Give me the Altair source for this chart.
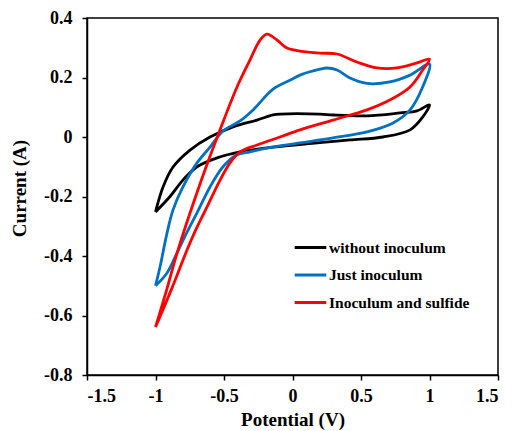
import altair as alt
import pandas as pd

series_names = ["without inoculum", "Just inoculum", "Inoculum and sulfide"]
series_colors = ["#000000", "#0070C0", "#FF0000"]

black_x = [-1.0, -0.945, -0.872, -0.748, -0.602, -0.434, -0.259, -0.142, -0.091, 0.20, 0.296, 0.544, 0.785, 0.909, 1.0,
           0.95, 0.858, 0.66, 0.42, 0.18, -0.142, -0.383, -0.55, -0.697, -0.80, -0.894, -1.0]
black_y = [-0.252, -0.168, -0.101, -0.044, 0.0, 0.034, 0.057, 0.074, 0.077, 0.077, 0.074, 0.071, 0.081, 0.088, 0.108,
           0.067, 0.024, 0.0, -0.010, -0.020, -0.034, -0.050, -0.070, -0.100, -0.145, -0.200, -0.252]

blue_x = [-1.0, -0.967, -0.916, -0.872, -0.80, -0.697, -0.602, -0.507, -0.383, -0.288, -0.142, 0.0, 0.055, 0.20, 0.252,
          0.325, 0.42, 0.544, 0.71, 0.858, 1.0,
          0.95, 0.858, 0.734, 0.544, 0.296, 0.055, -0.186, -0.31, -0.405, -0.507, -0.602, -0.697, -0.77, -0.843, -0.916, -1.0]
blue_y = [-0.50, -0.437, -0.323, -0.245, -0.168, -0.087, -0.034, 0.020, 0.054, 0.091, 0.161, 0.195, 0.208, 0.228, 0.232,
          0.225, 0.198, 0.180, 0.185, 0.208, 0.245,
          0.168, 0.091, 0.047, 0.017, -0.003, -0.020, -0.037, -0.050, -0.060, -0.100, -0.168, -0.255, -0.320, -0.390, -0.457, -0.50]

red_x = [-1.0, -0.916, -0.836, -0.639, -0.529, -0.405, -0.31, -0.237, -0.186, -0.113, -0.04, 0.055, 0.20, 0.325, 0.47,
         0.617, 0.763, 0.909, 1.0,
         0.95, 0.858, 0.71, 0.544, 0.296, 0.055, -0.091, -0.259, -0.383, -0.456, -0.529, -0.624, -0.697, -0.77, -0.88, -1.0]
red_y = [-0.639, -0.51, -0.38, -0.111, 0.024, 0.168, 0.259, 0.326, 0.346, 0.326, 0.299, 0.289, 0.282, 0.279, 0.252,
         0.232, 0.232, 0.249, 0.262,
         0.225, 0.168, 0.124, 0.091, 0.057, 0.024, 0.0, -0.027, -0.050, -0.087, -0.145, -0.235, -0.303, -0.380, -0.508, -0.639]

x_ticks = [-1.5, -1.0, -0.5, 0.0, 0.5, 1.0, 1.5]
y_ticks = [-0.8, -0.6, -0.4, -0.2, 0.0, 0.2, 0.4]

rows = []
for name, xs, ys in zip(series_names, [black_x, blue_x, red_x], [black_y, blue_y, red_y]):
    for i, (xv, yv) in enumerate(zip(xs, ys)):
        rows.append({"series": name, "potential": xv, "current": yv, "order": i})
df = pd.DataFrame(rows)

font = "Liberation Serif"

chart = alt.Chart(df).mark_line(strokeWidth=2.8, interpolate="catmull-rom").encode(
    x=alt.X("potential:Q",
            scale=alt.Scale(domain=[-1.5, 1.5], nice=False, zero=False),
            axis=alt.Axis(values=x_ticks, labelExpr="toString(datum.value)", title="Potential (V)",
                          labelPadding=7, titlePadding=5)),
    y=alt.Y("current:Q",
            scale=alt.Scale(domain=[-0.8, 0.4], nice=False, zero=False),
            axis=alt.Axis(values=y_ticks, labelExpr="toString(datum.value)", title="Current (A)",
                          labelPadding=10, titlePadding=14, titleY=170)),
    color=alt.Color("series:N",
                    scale=alt.Scale(domain=series_names, range=series_colors),
                    legend=alt.Legend(title=None, orient="none", legendX=206, legendY=212,
                                      symbolType="stroke", symbolStrokeWidth=3, symbolSize=1000,
                                      labelFont=font, labelFontWeight="bold", labelFontSize=15.5,
                                      labelColor="black", rowPadding=1.5, labelOffset=1, padding=0)),
    order="order:Q",
).properties(
    width=411, height=357,
    padding={"left": 87, "top": 18, "right": 15, "bottom": 56},
    autosize="none",
    background="white",
).configure_view(
    stroke="black", strokeWidth=1.5
).configure_axis(
    grid=False, domainColor="black", domainWidth=1.5, tickColor="black", tickWidth=1.5, tickSize=5,
    labelFont=font, labelFontWeight="bold", labelFontSize=18, labelColor="black",
    titleFont=font, titleFontWeight="bold", titleFontSize=19, titleColor="black",
)

chart.save("out.html", embed_options={"renderer": "svg", "actions": False})
